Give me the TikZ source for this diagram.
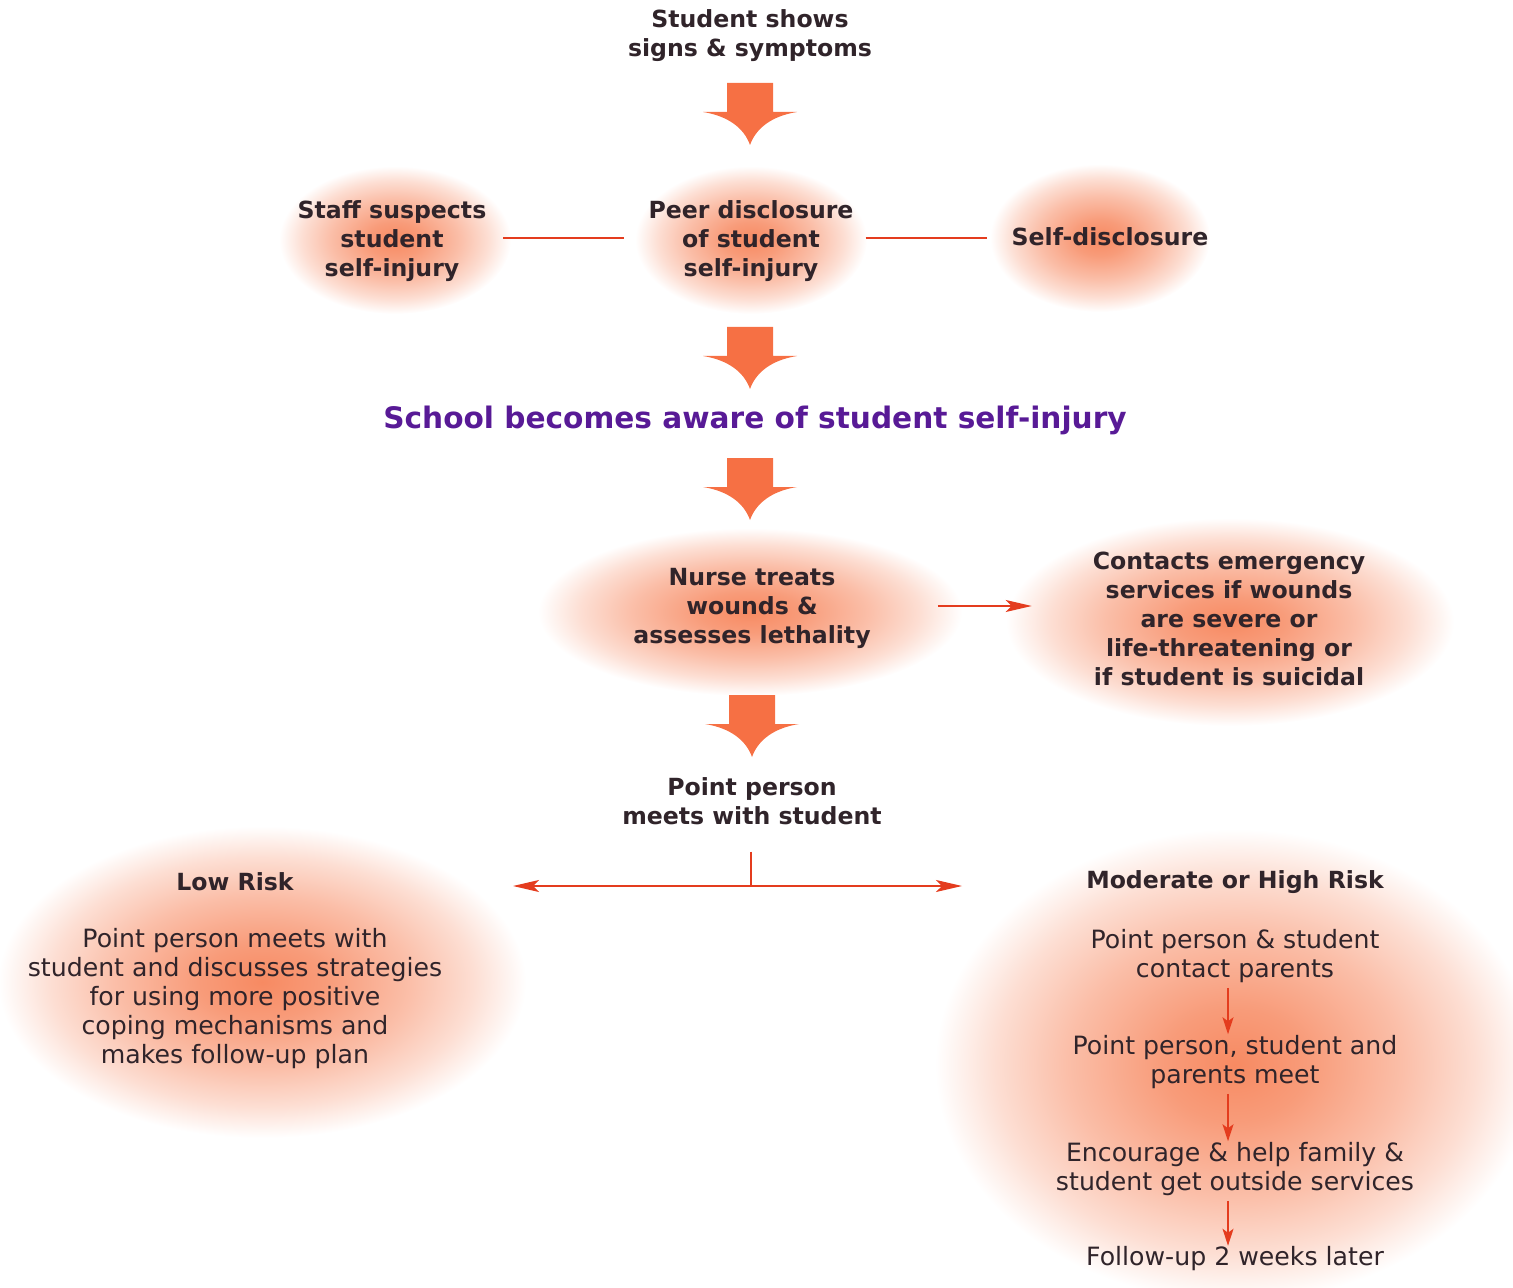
\documentclass[tikz,border=0pt]{standalone}
\usepackage{fontspec}
\setmainfont{DejaVu Sans}
\usetikzlibrary{positioning,arrows.meta}
\definecolor{inkc}{RGB}{48,36,42}
\definecolor{aimc}{RGB}{88,26,150}
\definecolor{linkc}{RGB}{228,60,30}
\definecolor{blockc}{RGB}{246,112,68}
\definecolor{glowc}{RGB}{247,138,98}
\pgfdeclareradialshading{glow}{\pgfpointorigin}{color(0bp)=(glowc);color(6bp)=(glowc!85!white);color(14bp)=(glowc!55!white);color(20bp)=(glowc!28!white);color(25bp)=(white);color(50bp)=(white)}

\begin{document}
\begin{tikzpicture}[x=0.5pt,y=-0.5pt,
	head/.style={align=center,text=inkc,font=\bfseries\fontsize{11.8}{14.5}\selectfont},
	body/.style={align=center,text=inkc,font=\fontsize{12.6}{14.5}\selectfont},
	aim/.style={text=aimc,font=\bfseries\fontsize{14.8}{17}\selectfont},
	link/.style={draw=linkc,line width=0.7pt},
	tip/.style={-{Stealth[length=13pt,width=6pt,inset=3pt,fill=linkc]}},
	smalltip/.style={-{Stealth[length=8.5pt,width=5.5pt,inset=2pt,fill=linkc]}},
	glowshade/.style={shading=glow},
	bigarrow/.pic={\fill[blockc] (-23,0) -- (23,0) -- (23,29) -- (47,29) .. controls (22,33) and (6,45) .. (0,62) .. controls (-6,45) and (-22,33) .. (-47,29) -- (-23,29) -- cycle;}]
			\useasboundingbox (0,0) rectangle (1513,1288);
			\clip (0,0) rectangle (1513,1288);

			\shade[glowshade] (395,240) ellipse [x radius=58pt, y radius=37pt];
			\shade[glowshade] (751,240) ellipse [x radius=58pt, y radius=37pt];
			\shade[glowshade] (1100,238) ellipse [x radius=55pt, y radius=37pt];
			\shade[glowshade] (750,612) ellipse [x radius=106pt, y radius=42pt];
			\shade[glowshade] (1230,622) ellipse [x radius=112pt, y radius=52pt];
			\shade[glowshade] (262,982) ellipse [x radius=132pt, y radius=78pt];
			\shade[glowshade] (1235,1065) ellipse [x radius=150pt, y radius=118pt];

			\node[head]		(shows)		at (750,36)		{Student shows\\signs \& symptoms};
			\node[head]		(staff)		at (392,241)	{Staff suspects\\student\\self-injury};
			\node[head]		(peer)		at (751,241)	{Peer disclosure\\of student\\self-injury};
			\node[head]		(self)		at (1110,237)	{Self-disclosure};
			\node[aim]		(aware)		at (755,420)	{School becomes aware of student self-injury};
			\node[head]		(nurse)		at (752,608)	{Nurse treats\\wounds \&\\assesses lethality};
			\node[head]		(contacts)	at (1229,619)	{Contacts emergency\\services if wounds\\are severe or\\life-threatening or\\if student is suicidal};
			\node[head]		(meets)		at (752,801)	{Point person\\meets with student};
			\node[head]		(low)		at (235,882)	{Low Risk};
			\node[body]		(lowplan)	at (235,999)	{Point person meets with\\student and discusses strategies\\for using more positive\\coping mechanisms and\\makes follow-up plan};
			\node[head]		(high)		at (1235,882)	{Moderate or High Risk};
			\node[body]		(parents)	at (1235,956)	{Point person \& student\\contact parents};
			\node[body]		(meet)		at (1235,1062)	{Point person, student and\\parents meet};
			\node[body]		(outside)	at (1235,1169)	{Encourage \& help family \&\\student get outside services};
			\node[body]		(followup)	at (1235,1259)	{Follow-up 2 weeks later};

			\pic at (750,83)	{bigarrow};
			\pic at (750,327)	{bigarrow};
			\pic at (750,458)	{bigarrow};
			\pic at (752,695)	{bigarrow};

			\coordinate (fork)		at (751,886);
			\coordinate (lowend)	at (513,886);
			\coordinate (highend)	at (962,886);

			\draw[link,shorten <=5pt,shorten >=8.5pt] ([yshift=1.5pt]staff.east) -- ([yshift=1.5pt]staff.east -| peer.west);
			\draw[link,shorten <=2.5pt,shorten >=9pt] ([yshift=1.5pt]peer.east) -- ([yshift=1.5pt]peer.east -| self.west);
			\draw[link,tip,shorten <=30pt,shorten >=27pt] ([yshift=1pt]nurse.east) -- ([yshift=1pt]nurse.east -| contacts.west);
			\draw[link,shorten <=10pt] (fork |- meets.south) -- (fork);
			\draw[link,tip] (fork) -- (lowend);
			\draw[link,tip] (fork) -- (highend);
			\draw[link,smalltip,shorten <=-1pt,shorten >=-3pt] ([xshift=-3.5pt]parents.south) -- ([xshift=-3.5pt]parents.south |- meet.north);
			\draw[link,smalltip,shorten <=-1pt,shorten >=-3pt] ([xshift=-3.5pt]meet.south) -- ([xshift=-3.5pt]meet.south |- outside.north);
			\draw[link,smalltip,shorten <=-1pt,shorten >=-3pt] ([xshift=-3.5pt]outside.south) -- ([xshift=-3.5pt]outside.south |- followup.north);
		\end{tikzpicture}
\end{document}
